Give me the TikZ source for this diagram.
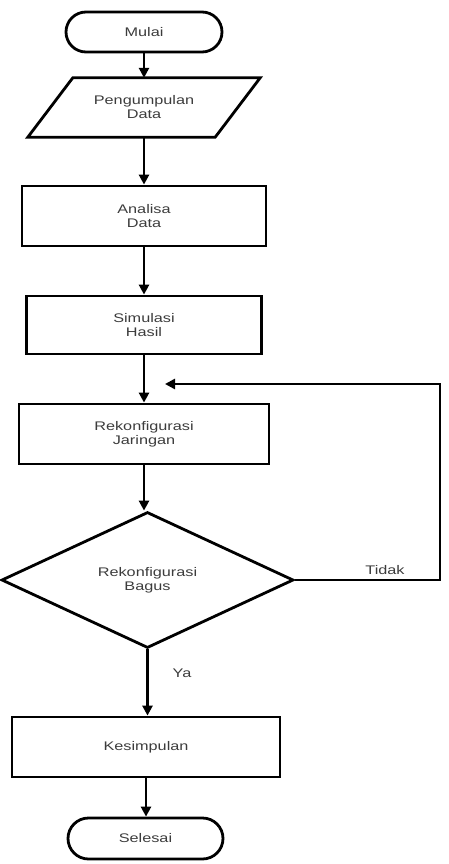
\documentclass[tikz,border=0pt]{standalone}
\usepackage{fontspec}
\setmainfont{Liberation Sans}[FakeStretch=1.3]
\usetikzlibrary{shapes.geometric,shapes.misc,arrows.meta}
\definecolor{txt}{RGB}{60,60,60}
\begin{document}
\begin{tikzpicture}[x=1pt,y=-1pt,
  every node/.style={font=\fontsize{12.5}{14}\selectfont,text=txt,align=center,inner sep=0pt},
  shp/.style={draw=black,line width=2.8pt},
  term/.style={shp,rounded rectangle},
  proc/.style={shp,rectangle},
  iobody/.style={rectangle},
  dec/.style={shp,diamond},
  flow/.style={line width=2.8pt,-{Triangle[length=10pt,width=10pt]}},
  lbl/.style={}]
\useasboundingbox (0,0) rectangle (449,864);
\node[term,minimum width=156pt,minimum height=40pt] (mulai) at (144,32) {Mulai};
\node[iobody,minimum width=187pt,minimum height=59pt] (pd) at (144,107.5) {Pengumpulan\\Data};
\draw[shp,line join=miter] ([xshift=22.5pt]pd.north west) -- ([xshift=22.5pt]pd.north east)
  -- ([xshift=-22.5pt]pd.south east) -- ([xshift=-22.5pt]pd.south west) -- cycle;
\node[proc,minimum width=244pt,minimum height=60pt] (ad) at (144,216) {Analisa\\Data};
\node[proc,minimum width=235pt,minimum height=58pt] (sh) at (144,325) {Simulasi\\Hasil};
\node[proc,minimum width=250pt,minimum height=60pt] (rj) at (144,434) {Rekonfigurasi\\Jaringan};
\node[dec,minimum width=292pt,minimum height=136pt] (rb) at (147.5,580) {Rekonfigurasi\\Bagus};
\node[proc,minimum width=268pt,minimum height=60pt] (ks) at (146,747) {Kesimpulan};
\node[term,minimum width=155pt,minimum height=41pt] (sel) at (145.5,838.5) {Selesai};
\node[lbl] (tidak) at (385,570) {Tidak};
\node[lbl] (ya) at (182,673) {Ya};
\coordinate (loopR) at (440,384);
\coordinate (loopEnd) at (165,384);
\draw[flow] (mulai.south) -- (mulai.south |- pd.north);
\draw[flow] (pd.south) -- (pd.south |- ad.north);
\draw[flow] (ad.south) -- (ad.south |- sh.north);
\draw[flow] (sh.south) -- (sh.south |- rj.north);
\draw[flow] (rj.south) -- (rj.south |- rb.north);
\draw[flow] (rb.south) -- (rb.south |- ks.north);
\draw[flow] (ks.south) -- (ks.south |- sel.north);
\draw[flow] (rb.east) -| (loopR) -- (loopEnd);
\end{tikzpicture}
\end{document}
